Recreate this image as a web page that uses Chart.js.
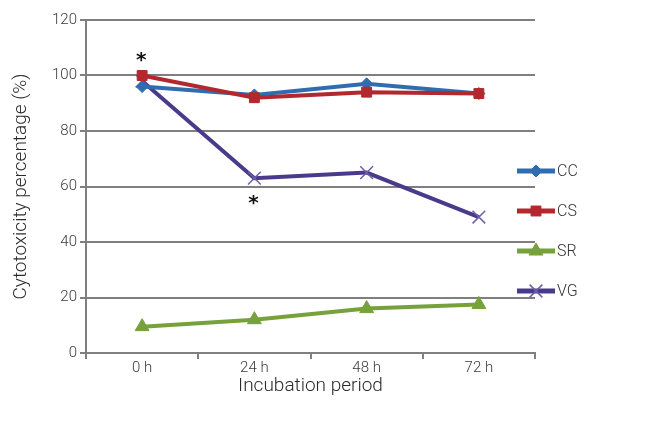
<!DOCTYPE html>
<html>
<head>
<meta charset="utf-8">
<script src="https://cdn.jsdelivr.net/npm/chart.js@4"></script>
<style>
  html, body { margin: 0; padding: 0; background: #fff; }
  #wrap { width: 645px; height: 423px; }
</style>
</head>
<body>
<div id="wrap"><canvas id="tox_chart"></canvas></div>
<script>
// data
const periods = ["0 h", "24 h", "48 h", "72 h"];
const ccValues = [96, 93, 97, 93.5];
const csValues = [100, 92, 94, 93.5];
const srValues = [9.5, 12, 16, 17.5];
const vgValues = [98, 63, 65, 49];
const yTicks = [0, 20, 40, 60, 80, 100, 120];
// significance marks: series, category index, above/below
const starMarks = [
  { series: "VG", index: 0, side: -1 },
  { series: "VG", index: 1, side: 1 },
];

const FONT = "Roboto, 'Liberation Sans', sans-serif";

// legend with line + marker, drawn at right
const sideLegend = {
  id: "sideLegend",
  afterDraw(chart) {
    const { ctx } = chart;
    const x0 = 517, x1 = 555;
    let y = 171;
    chart.data.datasets.forEach(function (ds) {
      ctx.save();
      ctx.strokeStyle = ds.borderColor;
      ctx.lineWidth = 5;
      ctx.beginPath();
      ctx.moveTo(x0, y);
      ctx.lineTo(x1, y);
      ctx.stroke();
      ctx.fillStyle = ds.backgroundColor;
      ctx.strokeStyle = ds.pointBorderColor || ds.borderColor;
      ctx.lineWidth = ds.pointBorderWidth || 1;
      Chart.helpers.drawPoint(ctx, {
        pointStyle: ds.pointStyle,
        radius: ds.pointRadius,
        borderWidth: ds.pointBorderWidth || 1,
        rotation: 0,
      }, (x0 + x1) / 2, y);
      ctx.fillStyle = "#333";
      ctx.font = "300 16px " + FONT;
      ctx.textBaseline = "middle";
      ctx.fillText(ds.label, x1 + 2, y + 1);
      ctx.restore();
      y += 40;
    });
  },
};

// asterisks near points
const stars = {
  id: "stars",
  afterDatasetsDraw(chart) {
    const { ctx } = chart;
    starMarks.forEach(function (m) {
      const dsIndex = chart.data.datasets.findIndex((d) => d.label === m.series);
      const pt = chart.getDatasetMeta(dsIndex).data[m.index];
      ctx.save();
      ctx.fillStyle = "#111";
      ctx.font = "bold 20px 'DejaVu Sans', sans-serif";
      ctx.textAlign = "center";
      ctx.textBaseline = "middle";
      ctx.fillText("*", pt.x - 1, pt.y + m.side * 23 + 3);
      ctx.restore();
    });
  },
};

var ctx = document.getElementById("tox_chart").getContext("2d");
var myChart = new Chart(ctx, {
  type: "line",
  plugins: [sideLegend, stars],
  data: {
    labels: periods,
    datasets: [
      {
        label: "CC",
        data: ccValues,
        borderColor: "#2f6db0",
        backgroundColor: "#2f6db0",
        pointStyle: "rectRot",
        pointRadius: 6,
        order: 1,
      },
      {
        label: "CS",
        data: csValues,
        borderColor: "#b3282e",
        backgroundColor: "#b3282e",
        pointStyle: "rect",
        pointRadius: 7,
        order: 0,
      },
      {
        label: "SR",
        data: srValues,
        borderColor: "#77a13b",
        backgroundColor: "#77a13b",
        pointStyle: "triangle",
        pointRadius: 8,
        order: 3,
      },
      {
        label: "VG",
        data: vgValues,
        borderColor: "#4a3a8a",
        backgroundColor: "#4a3a8a",
        pointStyle: "crossRot",
        pointRadius: 9,
        pointBorderWidth: 1.5,
        pointBorderColor: "#6d5fa8",
        order: 2,
      },
    ],
  },
  options: {
    responsive: true,
    maintainAspectRatio: false,
    animation: false,
    layout: {
      padding: { top: 20, right: 110, bottom: 25, left: 0 },
    },
    elements: {
      line: { borderWidth: 4, tension: 0 },
      point: { borderWidth: 1 },
    },
    plugins: {
      legend: { display: false },
      tooltip: { enabled: false },
    },
    scales: {
      x: {
        offset: true,
        grid: {
          offset: true,
          drawOnChartArea: false,
          drawTicks: true,
          tickLength: 6,
          color: "#7f7f7f",
          lineWidth: 2,
        },
        border: { color: "#7f7f7f", width: 2 },
        ticks: { color: "#3a3a3a", font: { family: FONT, size: 15, weight: 300 }, padding: 0 },
        title: {
          display: true,
          text: "Incubation period",
          color: "#2a2a2a",
          font: { family: FONT, size: 19, weight: 300 },
          padding: { top: 0, bottom: 0 },
        },
        afterFit(scale) { scale.height = 45; },
      },
      y: {
        min: 0,
        max: 120,
        afterBuildTicks(scale) {
          scale.ticks = yTicks.map((v) => ({ value: v }));
        },
        grid: {
          color: "#7f7f7f",
          lineWidth: 2,
          drawTicks: true,
          tickLength: 6,
        },
        border: { color: "#7f7f7f", width: 2 },
        ticks: { color: "#3a3a3a", font: { family: FONT, size: 15, weight: 300 }, padding: 3 },
        title: {
          display: true,
          text: "Cytotoxicity percentage (%)",
          color: "#2a2a2a",
          font: { family: FONT, size: 19, weight: 300 },
          padding: { top: 10, bottom: 2 },
        },
        afterFit(scale) { scale.width = 86; },
      },
    },
  },
});
</script>
</body>
</html>
